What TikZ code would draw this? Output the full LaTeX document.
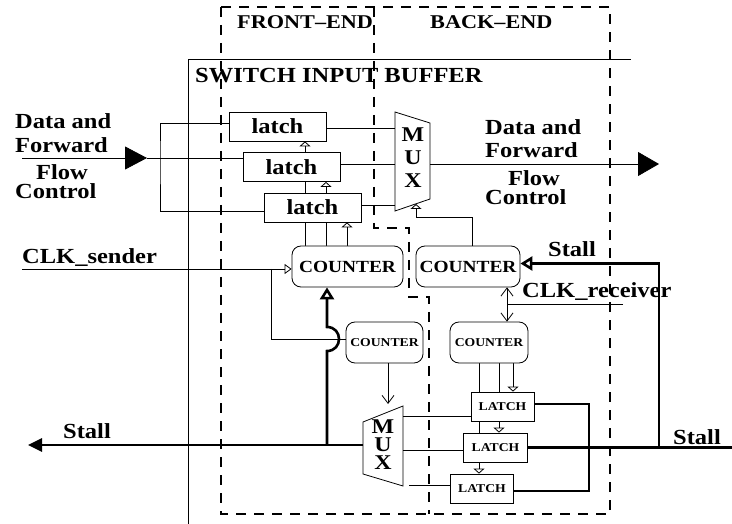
\documentclass[tikz,border=0pt]{standalone}
\usepackage{fontspec}
\setmainfont{Liberation Serif}[FakeStretch=1.14]
\usetikzlibrary{arrows.meta,backgrounds}
\tikzset{ lt/.style = { rectangle % upper latch
        , draw
        , fill = white
        , line width = 0.8pt
        , inner sep = 0pt
        , minimum width = 97pt
        , minimum height = 29pt
        , font = \fontsize{21.5}{24}\selectfont\bfseries
        }
        , ltc/.style = { rectangle % lower latch
        , draw
        , fill = white
        , line width = 0.8pt
        , inner sep = 0pt
        , minimum width = 63pt
        , minimum height = 29pt
        , font = \fontsize{12}{14}\selectfont\bfseries
        }
        , cnt/.style = { rectangle % counter
        , draw
        , fill = white
        , rounded corners = 9pt
        , line width = 0.8pt
        , inner sep = 0pt
        , minimum width = 104pt
        , minimum height = 41pt
        , font = \fontsize{17}{20}\selectfont\bfseries
        }
        , scnt/.style = { cnt % small counter
        , minimum width = 77pt
        , font = \fontsize{12}{14}\selectfont\bfseries
        }
        , lbl/.style = { anchor = base west % label
        , inner sep = 0pt
        , font = \fontsize{21.5}{24}\selectfont\bfseries
        }
        , hdr/.style = { lbl % section header
        , font = \fontsize{19.5}{22}\selectfont\bfseries
        }
        , mux/.style = { align = center % mux letters
        , inner sep = 0pt
        , font = \fontsize{21}{23}\selectfont\bfseries
        }
        , wire/.style = { line width = 0.8pt }
        , bus/.style = { line width = 2.6pt }
        , frame/.style = { line width = 2.2pt, dash pattern = on 10pt off 8pt }
        , clk/.style = { -{Triangle[open, length=5pt, width=11pt]} }
        , bar/.style = { -{Straight Barb[length=8pt, width=12pt]} }
        }

\begin{document}
\begin{tikzpicture}[x=1pt, y=-1pt]
\useasboundingbox (0,0) rectangle (732,524);
% front-end / back-end frames
\draw[frame] (221,7) rectangle (610,514);
\draw[frame] (374,7) -- (374,228) -- (409,228) -- (409,297) -- (429,297) -- (429,514);
\draw[wire] (188,524) -- (188,59) -- (631,59);
\node[hdr] (fe) at (237,29) {FRONT--END};
\node[hdr] (be) at (430,29) {BACK--END};
\node[lbl] (sib) at (195,83) {SWITCH INPUT BUFFER};

% blocks
\node[lt] (latch1) at (277.5,126.5) {latch};
\node[lt] (latch2) at (291.5,167) {latch};
\node[lt] (latch3) at (312.5,207.5) {latch};
\node[cnt, minimum width=111pt] (cnt1) at (347.5,266.5) {COUNTER};
\node[cnt] (cnt2) at (468,266.5) {COUNTER};
\node[scnt] (cnt3) at (384.5,342.5) {COUNTER};
\node[scnt, minimum width=78pt] (cnt4) at (489,342.5) {COUNTER};
\node[ltc] (ltc1) at (502.5,406.5) {LATCH};
\node[ltc, minimum width=64pt] (ltc2) at (495.5,447.5) {LATCH};
\node[ltc] (ltc3) at (482,488.5) {LATCH};

% muxes
\draw[wire] (395,112) -- (430,123) -- (430,199) -- (395,211) -- cycle;
\node[mux] (mx1) at (413,158) {M\\U\\X};
\draw[wire] (363,422) -- (403,406) -- (403,486) -- (363,474) -- cycle;
\node[mux, font=\fontsize{21}{18}\selectfont\bfseries] (mx2) at (383,445) {M\\U\\X};

% ends and bends
\coordinate (din) at (22,158);
\coordinate (dtip) at (147,158);
\coordinate (dsplit) at (160,158);
\coordinate (m1a) at (395,128);
\coordinate (m1b) at (395,164);
\coordinate (m1c) at (395,205);
\coordinate (m1o) at (430,164);
\coordinate (dout) at (659,164);
\coordinate (m1s) at (416,204);
\coordinate (k4) at (472,217);
\foreach[count=\n] \x in {305,326,347} \coordinate (ku\n) at (\x,0);
\foreach[count=\n] \x in {513,499,479} \coordinate (kd\n) at (\x,0);
\coordinate (csend) at (22,269);
\coordinate (cbr) at (271,269);
\coordinate (hop) at (271,339);
\coordinate (stallL) at (28,445);
\coordinate (m2o) at (363,445);
\coordinate (sj) at (327,445);
\coordinate (sjb) at (327,351);
\coordinate (sjt) at (327,327);
\coordinate (m2s) at (388,404);
\coordinate (m2a) at (403,416);
\coordinate (m2b) at (403,450);
\coordinate (m2c) at (409,485);
\coordinate (crecv) at (623,304);
\coordinate (cr) at (507,304);
\coordinate (stallR) at (732,447.5);
\coordinate (stallUp) at (659,447.5);
\coordinate (loopx) at (589,447.5);

% data path
\draw[wire, -{Triangle[length=22pt, width=23pt]}] (din) -- (dtip);
\draw[wire] (dtip) -- (latch2.west |- dtip);
\draw[wire] ([yshift=3.5pt]latch1.west) -| (dsplit) |- ([yshift=-3.5pt]latch3.west);
\draw[wire] (latch1.east |- m1a) -- (m1a);
\draw[wire] (latch2.east |- m1b) -- (m1b);
\draw[wire] (latch3.east |- m1c) -- (m1c);
\draw[wire, -{Triangle[length=21pt, width=24pt]}] (m1o) -- (dout);
\draw[wire, clk] (cnt2.north -| k4) |- (m1s |- k4) -- (m1s);
\begin{pgfonlayer}{background}
\foreach[count=\n] \a in {latch1, latch2, latch3} \draw[wire, clk] (cnt1.north -| ku\n) -- (\a.south -| ku\n);
\foreach[count=\n] \a in {ltc1, ltc2, ltc3} \draw[wire, clk] (cnt4.south -| kd\n) -- (\a.north -| kd\n);
\end{pgfonlayer}

% clocks
\draw[wire, -{Triangle[open, length=7pt, width=10pt]}] (csend) -- (cnt1.west |- csend);
\draw[wire] (cbr) -- (hop) -- (hop -| cnt3.west);
\draw[wire] (crecv) -- (cr);
\draw[wire, bar] (cr) -- (cnt2.south -| cr);
\draw[wire, bar] (cr) -- (cnt4.north -| cr);
\draw[wire, bar] (cnt3.south -| m2s) -- (m2s);

% stall path
\draw[bus, -{Triangle[length=14pt, width=13pt]}] (m2o) -- (stallL);
\draw[bus, -{Triangle[open, length=12pt, width=14pt]}] (sj) -- (sjb) .. controls (343,351) and (343,327) .. (sjt) -- (cnt1.south -| sj);
\draw[wire] (m2a) -- (ltc1.west |- m2a);
\draw[wire] (m2b) -- (ltc2.west |- m2b);
\draw[wire] (m2c) -- (ltc3.west |- m2c);
\draw[bus] ([yshift=2.5pt]ltc1.east) -| (loopx) |- ([yshift=-2.5pt]ltc3.east);
\draw[bus] (ltc2.east) -- (stallR);
\draw[bus, -{Triangle[open, length=12pt, width=14pt]}] (stallUp) |- ([yshift=3pt]cnt2.east);

% labels
\node[lbl] (dl1) at (15,129) {Data and};
\node[lbl] (dl2) at (15,153) {Forward};
\node[lbl] (dl3) at (36,180) {Flow};
\node[lbl] (dl4) at (15,199) {Control};
\node[lbl] (dr1) at (485,135) {Data and};
\node[lbl] (dr2) at (485,158) {Forward};
\node[lbl] (dr3) at (508,186) {Flow};
\node[lbl] (dr4) at (485,205) {Control};
\node[lbl] (ls) at (22,264) {CLK\_sender};
\node[lbl] (lr) at (522,298) {CLK\_receiver};
\node[lbl] (st1) at (63,438) {Stall};
\node[lbl] (st2) at (548,257) {Stall};
\node[lbl] (st3) at (673,444) {Stall};
\end{tikzpicture}
\end{document}
